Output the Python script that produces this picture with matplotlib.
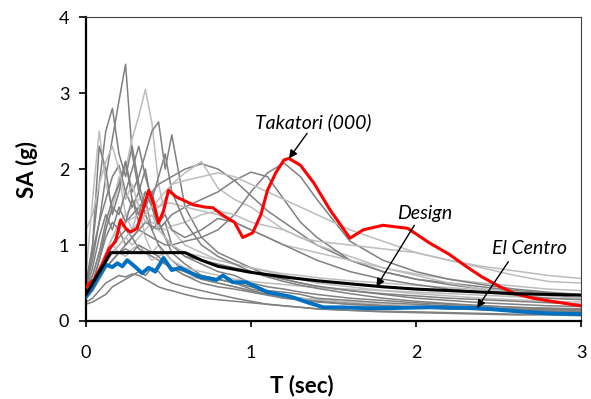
import numpy as np
import matplotlib
matplotlib.use('Agg')
import matplotlib.pyplot as plt

plt.rcParams['font.family'] = ['Lato', 'DejaVu Sans']

# period grid shared by the gray record spectra
T = [0, 0.04, 0.08, 0.12, 0.16, 0.2, 0.24, 0.28, 0.32, 0.36, 0.4, 0.44, 0.48, 0.52,
     0.6, 0.7, 0.8, 0.9, 1.0, 1.1, 1.2, 1.3, 1.4, 1.6, 1.8, 2.0, 2.2, 2.4, 2.6, 2.8, 3.0]

dark = '#808080'
light = '#bdbdbd'

# gray spectra (one list per record)
rec01 = [0.45, 0.8, 1.3, 1.9, 2.4, 2.9, 3.38, 2.2, 1.7, 2.0, 1.5, 1.2, 1.3, 1.0, 0.85, 0.75, 0.65, 0.6, 0.5, 0.45, 0.42, 0.38, 0.35, 0.3, 0.27, 0.24, 0.22, 0.2, 0.18, 0.17, 0.16]
rec02 = [0.4, 0.6, 0.9, 1.2, 1.5, 1.8, 2.0, 2.4, 2.7, 3.05, 2.6, 1.8, 1.4, 1.2, 1.0, 0.9, 0.8, 0.75, 0.7, 0.65, 0.6, 0.55, 0.5, 0.45, 0.4, 0.36, 0.33, 0.3, 0.28, 0.26, 0.25]
rec03 = [0.5, 1.0, 1.8, 2.5, 2.8, 2.2, 1.9, 2.3, 1.8, 1.5, 1.7, 1.3, 1.1, 0.9, 0.75, 0.6, 0.55, 0.5, 0.42, 0.38, 0.34, 0.3, 0.28, 0.24, 0.21, 0.19, 0.17, 0.15, 0.14, 0.13, 0.12]
rec04 = [0.6, 1.6, 2.5, 1.8, 1.5, 1.9, 1.4, 1.2, 1.5, 1.1, 0.9, 1.0, 0.8, 0.7, 0.6, 0.55, 0.5, 0.45, 0.4, 0.36, 0.33, 0.3, 0.28, 0.25, 0.22, 0.2, 0.19, 0.17, 0.16, 0.15, 0.14]
rec05 = [0.35, 1.0, 2.3, 2.0, 1.4, 1.7, 2.1, 1.6, 1.3, 1.6, 1.2, 1.0, 0.9, 0.8, 0.65, 0.55, 0.5, 0.45, 0.4, 0.35, 0.3, 0.28, 0.25, 0.22, 0.2, 0.18, 0.16, 0.15, 0.14, 0.13, 0.12]
rec06 = [0.4, 0.6, 0.9, 1.3, 1.6, 1.8, 2.1, 1.7, 1.9, 2.2, 2.5, 2.62, 2.0, 2.45, 1.5, 1.1, 0.9, 0.8, 0.7, 0.6, 0.55, 0.5, 0.45, 0.4, 0.36, 0.33, 0.3, 0.28, 0.26, 0.24, 0.22]
rec07 = [0.3, 0.4, 0.6, 0.8, 1.0, 1.2, 1.3, 1.4, 1.5, 1.6, 1.7, 1.8, 1.85, 1.9, 2.0, 2.07, 2.0, 1.85, 1.65, 1.45, 1.3, 1.15, 1.0, 0.8, 0.65, 0.55, 0.48, 0.42, 0.38, 0.34, 0.3]
rec08 = [0.35, 0.5, 0.7, 0.9, 1.1, 1.3, 1.4, 1.5, 1.6, 1.7, 1.6, 1.5, 1.6, 1.8, 1.95, 2.1, 1.75, 1.6, 1.5, 1.35, 1.2, 1.1, 1.0, 0.85, 0.7, 0.62, 0.55, 0.5, 0.46, 0.42, 0.4]
rec09 = [0.3, 0.45, 0.6, 0.8, 1.0, 1.1, 1.2, 1.1, 1.2, 1.3, 1.25, 1.2, 1.3, 1.4, 1.5, 1.6, 1.7, 1.85, 1.96, 1.9, 1.6, 1.3, 1.1, 0.8, 0.65, 0.55, 0.5, 0.45, 0.4, 0.37, 0.34]
rec10 = [0.3, 0.4, 0.55, 0.7, 0.8, 0.9, 1.0, 1.1, 1.2, 1.15, 1.1, 1.05, 1.0, 1.0, 1.05, 1.1, 1.2, 1.4, 1.7, 1.95, 2.08, 1.9, 1.6, 1.05, 0.8, 0.65, 0.55, 0.48, 0.42, 0.38, 0.35]
rec11 = [0.4, 0.5, 0.7, 0.9, 1.1, 1.2, 1.3, 1.35, 1.4, 1.45, 1.5, 1.5, 1.55, 1.55, 1.5, 1.45, 1.4, 1.3, 1.2, 1.1, 1.0, 0.95, 0.9, 0.8, 0.7, 0.6, 0.5, 0.42, 0.37, 0.33, 0.3]
rec12 = [0.35, 0.45, 0.6, 0.8, 0.9, 1.0, 1.1, 1.0, 1.1, 1.2, 1.3, 1.25, 1.2, 1.25, 1.3, 1.4, 1.45, 1.4, 1.3, 1.25, 1.2, 1.1, 1.05, 1.0, 0.95, 0.9, 0.8, 0.7, 0.6, 0.52, 0.5]
rec13 = [0.3, 0.5, 0.8, 1.1, 1.3, 1.2, 1.0, 1.1, 0.95, 0.9, 0.85, 0.8, 0.75, 0.7, 0.65, 0.6, 0.55, 0.5, 0.45, 0.4, 0.38, 0.35, 0.3, 0.27, 0.24, 0.22, 0.2, 0.18, 0.16, 0.15, 0.14]
rec14 = [0.25, 0.3, 0.4, 0.5, 0.55, 0.6, 0.58, 0.62, 0.6, 0.55, 0.5, 0.45, 0.42, 0.4, 0.35, 0.3, 0.28, 0.26, 0.24, 0.22, 0.2, 0.18, 0.16, 0.14, 0.12, 0.11, 0.1, 0.09, 0.08, 0.08, 0.07]
rec15 = [0.22, 0.25, 0.3, 0.35, 0.45, 0.5, 0.55, 0.6, 0.65, 0.6, 0.7, 0.65, 0.55, 0.5, 0.45, 0.4, 0.35, 0.3, 0.26, 0.22, 0.2, 0.18, 0.16, 0.14, 0.13, 0.12, 0.11, 0.1, 0.09, 0.09, 0.08]
rec16 = [0.35, 0.5, 0.7, 0.9, 1.0, 0.9, 0.85, 0.95, 1.0, 0.9, 0.8, 0.85, 0.9, 0.8, 0.7, 0.65, 0.6, 0.55, 0.52, 0.5, 0.48, 0.46, 0.44, 0.42, 0.4, 0.38, 0.36, 0.34, 0.32, 0.3, 0.29]
rec17 = [0.5, 0.9, 1.3, 1.6, 1.9, 2.05, 1.7, 1.5, 1.7, 1.4, 1.2, 1.3, 1.1, 1.0, 0.85, 0.8, 0.75, 0.7, 0.65, 0.6, 0.55, 0.5, 0.46, 0.4, 0.35, 0.3, 0.27, 0.24, 0.22, 0.2, 0.19]
rec18 = [1.2, 1.4, 1.8, 2.1, 2.3, 2.0, 1.6, 1.8, 1.5, 1.3, 1.4, 1.2, 1.1, 1.0, 0.9, 0.85, 0.8, 0.75, 0.7, 0.66, 0.62, 0.6, 0.57, 0.53, 0.5, 0.47, 0.44, 0.41, 0.38, 0.36, 0.34]
rec19 = [0.3, 0.5, 0.8, 1.2, 1.5, 1.4, 1.7, 2.0, 2.3, 1.9, 1.6, 1.9, 2.2, 1.7, 1.3, 1.0, 0.85, 0.75, 0.65, 0.58, 0.52, 0.47, 0.43, 0.36, 0.3, 0.26, 0.23, 0.2, 0.18, 0.16, 0.15]
rec20 = [0.4, 0.7, 1.1, 1.4, 1.2, 1.5, 1.3, 1.6, 1.4, 1.7, 1.5, 1.3, 1.4, 1.2, 1.1, 1.2, 1.35, 1.3, 1.2, 1.1, 1.0, 0.9, 0.8, 0.65, 0.55, 0.48, 0.42, 0.38, 0.34, 0.3, 0.28]
rec21 = [0.3, 0.45, 0.6, 0.75, 0.9, 1.0, 1.1, 1.2, 1.3, 1.4, 1.5, 1.6, 1.7, 1.8, 1.85, 1.9, 1.95, 1.9, 1.8, 1.7, 1.6, 1.5, 1.4, 1.2, 1.05, 0.9, 0.8, 0.72, 0.66, 0.6, 0.56]
rec22 = [0.3, 0.4, 0.55, 0.7, 0.8, 0.9, 0.95, 0.9, 1.0, 0.95, 0.9, 0.85, 0.75, 0.7, 0.6, 0.5, 0.45, 0.42, 0.38, 0.34, 0.3, 0.28, 0.26, 0.22, 0.2, 0.18, 0.16, 0.15, 0.14, 0.13, 0.12]

records = [rec01, rec02, rec03, rec04, rec05, rec06, rec07, rec08, rec09, rec10, rec11,
           rec12, rec13, rec14, rec15, rec16, rec17, rec18, rec19, rec20, rec21, rec22]
shades = [dark, light, dark, light, dark, dark, dark, light, dark, dark, light,
          light, dark, dark, dark, light, dark, light, dark, dark, light, dark]

# Takatori (000)
T_tak = [0, 0.05, 0.1, 0.14, 0.18, 0.21, 0.24, 0.27, 0.31, 0.35, 0.38, 0.41, 0.44, 0.47, 0.5,
         0.55, 0.6, 0.65, 0.72, 0.77, 0.83, 0.9, 0.95, 1.01, 1.06, 1.1, 1.15, 1.2, 1.23, 1.3,
         1.38, 1.48, 1.6, 1.68, 1.8, 1.95, 2.08, 2.2, 2.31, 2.4, 2.51, 2.6, 2.71, 2.85, 3.0]
SA_tak = [0.45, 0.55, 0.75, 0.95, 1.05, 1.33, 1.22, 1.17, 1.22, 1.5, 1.72, 1.55, 1.29, 1.45, 1.72,
          1.63, 1.58, 1.53, 1.5, 1.49, 1.39, 1.3, 1.1, 1.16, 1.4, 1.72, 1.95, 2.12, 2.14, 2.05,
          1.82, 1.46, 1.09, 1.2, 1.26, 1.22, 1.03, 0.88, 0.71, 0.58, 0.45, 0.36, 0.3, 0.25, 0.2]

# El Centro
T_elc = [0, 0.04, 0.08, 0.12, 0.16, 0.19, 0.22, 0.25, 0.3, 0.34, 0.38, 0.42, 0.47, 0.52, 0.57,
         0.63, 0.69, 0.75, 0.79, 0.83, 0.89, 0.97, 1.03, 1.1, 1.24, 1.35, 1.44, 1.55, 1.68, 1.85,
         2.08, 2.37, 2.6, 2.8, 3.0]
SA_elc = [0.32, 0.45, 0.6, 0.74, 0.71, 0.76, 0.72, 0.8, 0.71, 0.63, 0.7, 0.65, 0.83, 0.67, 0.7,
          0.64, 0.58, 0.56, 0.54, 0.6, 0.51, 0.51, 0.45, 0.38, 0.32, 0.24, 0.18, 0.18, 0.17, 0.17,
          0.18, 0.17, 0.13, 0.1, 0.09]

# design spectrum
T_des = [0, 0.15, 0.6, 0.7, 0.8, 1.0, 1.2, 1.4, 1.6, 1.8, 2.0, 2.2, 2.4, 2.6, 2.8, 3.0]
SA_des = [0.35, 0.9, 0.9, 0.8, 0.72, 0.64, 0.58, 0.53, 0.49, 0.45, 0.42, 0.4, 0.38, 0.36, 0.35, 0.34]

fig = plt.figure(figsize=(5.91, 3.99), dpi=100)
ax = fig.add_axes([0.1455, 0.1955, 0.8375, 0.7615])

for rec, c in zip(records, shades):
    ax.plot(T, rec, color=c, lw=1.1, solid_joinstyle='round', zorder=2)

ax.plot(T_tak, SA_tak, color='#ff0000', lw=2.2, solid_joinstyle='round', zorder=3)
ax.plot(T_elc, SA_elc, color='#0070c0', lw=2.8, solid_joinstyle='round', zorder=3)
ax.plot(T_des, SA_des, color='black', lw=2.2, solid_joinstyle='round', zorder=4)

ax.set_xlim(0, 3)
ax.set_ylim(0, 4)
ax.set_xticks([0, 1, 2, 3])
ax.set_yticks([0, 1, 2, 3, 4])

for side in ['left', 'bottom']:
    ax.spines[side].set_linewidth(1.6)
    ax.spines[side].set_color('black')
for side in ['top', 'right']:
    ax.spines[side].set_linewidth(0.8)
    ax.spines[side].set_color('#404040')

ax.tick_params(axis='y', direction='out', length=5, width=1.2, pad=7, labelsize=13)
ax.tick_params(axis='x', direction='out', length=4, width=1.2, pad=13, labelsize=13)

ax.set_xlabel('T (sec)', fontsize=16, fontweight='bold')
ax.set_ylabel('SA (g)', fontsize=16, fontweight='bold')
ax.xaxis.set_label_coords(0.436, -0.175)
ax.yaxis.set_label_coords(-0.097, 0.5)

arrow = dict(arrowstyle='-|>', color='black', lw=1.0, mutation_scale=12, shrinkA=0, shrinkB=0)
ax.annotate('', xy=(1.23, 2.14), xytext=(1.34, 2.47), arrowprops=arrow, zorder=5)
ax.annotate('', xy=(1.76, 0.45), xytext=(1.99, 1.26), arrowprops=arrow, zorder=5)
ax.annotate('', xy=(2.37, 0.17), xytext=(2.56, 0.78), arrowprops=arrow, zorder=5)

ax.text(1.376, 2.62, 'Takatori (000)', fontsize=14, style='italic', ha='center', va='center')
ax.text(2.05, 1.42, 'Design', fontsize=14, style='italic', ha='center', va='center')
ax.text(2.69, 0.95, 'El Centro', fontsize=14, style='italic', ha='center', va='center')

plt.savefig('out.png', dpi=100)
